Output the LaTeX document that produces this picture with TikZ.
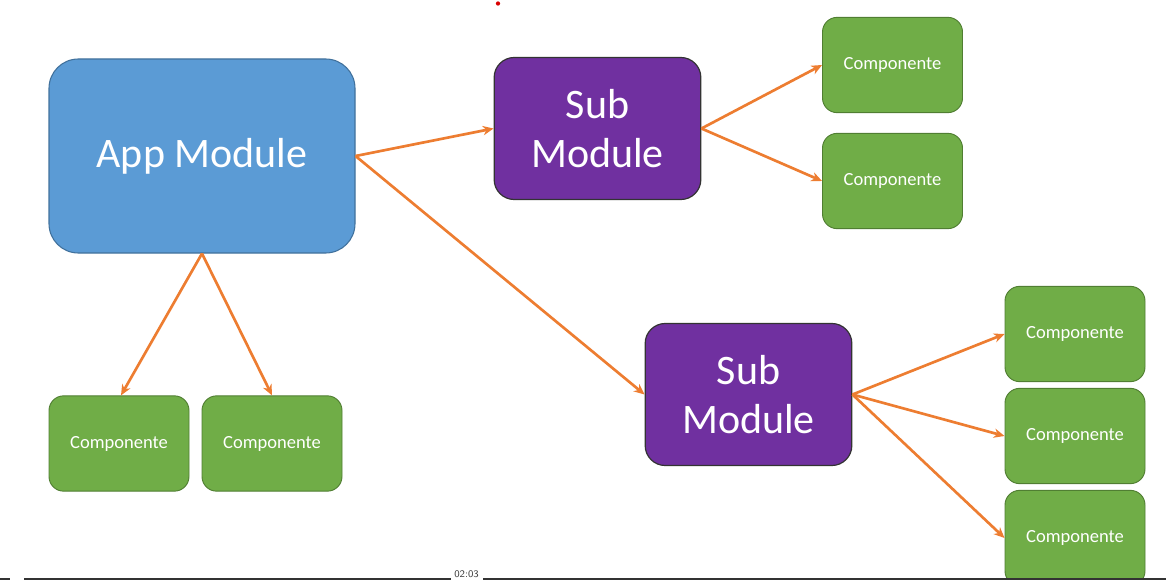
\documentclass[tikz,border=0pt]{standalone}
\usepackage{fontspec}
\setmainfont{Carlito}
\usetikzlibrary{arrows.meta}
\definecolor{appblue}{HTML}{5B9BD5}
\definecolor{appline}{HTML}{41719C}
\definecolor{subpurple}{HTML}{7030A0}
\definecolor{compgreen}{HTML}{70AD47}
\definecolor{compline}{HTML}{507E32}
\definecolor{linkorange}{HTML}{ED7D31}
\begin{document}
\begin{tikzpicture}[
        x=0.75pt, y=-0.75pt,
        appbox/.style={
            rectangle,
            draw=appline,
            fill=appblue,
            line width=0.8pt,
            rounded corners=22pt,
            minimum width=229.5pt,
            minimum height=145.5pt,
            align=center,
            text=white,
            font=\fontsize{31.5}{36}\selectfont
        },
        subbox/.style={
            rectangle,
            draw=black!80,
            fill=subpurple,
            line width=0.9pt,
            rounded corners=15pt,
            minimum width=155pt,
            minimum height=106.5pt,
            align=center,
            text=white,
            font=\fontsize{31.5}{37}\selectfont
        },
        compbox/.style={
            rectangle,
            draw=compline,
            fill=compgreen,
            line width=0.7pt,
            rounded corners=11pt,
            minimum width=105pt,
            minimum height=71.5pt,
            align=center,
            text=white,
            font=\fontsize{13.9}{16}\selectfont
        },
        arrow/.style={
            -{Stealth[length=8pt, width=7pt, inset=2.5pt]},
            line width=2pt,
            draw=linkorange
        }
    ]
    \useasboundingbox (0,0) rectangle (1166,581);
    \begin{scope}
    \clip (0,0) rectangle (1166,578);

    % --- Modules ---
    \node[appbox] (app) at (202,156) {App Module};
    \node[subbox] (suba) at (597.5,128.5) {Sub\\Module};
    \node[subbox] (subb) at (748.5,394.5) {Sub\\Module};

    % --- Components ---
    \node[compbox] (ca) at (892.5,65) {Componente};
    \node[compbox] (cb) at (892.5,181) {Componente};
    \node[compbox] (cc) at (119,443.5) {Componente};
    \node[compbox] (cd) at (272,443.5) {Componente};
    \node[compbox] (ce) at (1075,334) {Componente};
    \node[compbox] (cf) at (1075,436) {Componente};
    \node[compbox] (cg) at (1075,538) {Componente};

    % Links
    \draw[arrow] (app.east) -- (suba.west);
    \draw[arrow] (app.east) -- (subb.west);
    \draw[arrow] (app.south) -- ([xshift=1.5pt]cc.north);
    \draw[arrow] (app.south) -- (cd.north);
    \draw[arrow] (suba.east) -- (ca.west);
    \draw[arrow] (suba.east) -- (cb.west);
    \draw[arrow] (subb.east) -- (ce.west);
    \draw[arrow] (subb.east) -- (cf.west);
    \draw[arrow] (subb.east) -- (cg.west);
    \end{scope}

    % --- Player bar ---
    \fill[red!85!black] (498,3.5) circle (1.6pt);
    \node[font=\sffamily\fontsize{7.6}{8}\selectfont, text=black!75, inner sep=0pt] (time) at (466.5,574.5) {02:03};
    \coordinate (barl) at (0,579);
    \coordinate (barr) at (1166,579);
    \draw[black!80, line width=0.9pt] (barl) -- ++(10,0);
    \draw[black!80, line width=0.9pt] (24,579) -- ([xshift=-2pt]time.west |- barl);
    \draw[black!80, line width=0.9pt] ([xshift=3pt]time.east |- barl) -- (barr);
\end{tikzpicture}
\end{document}
